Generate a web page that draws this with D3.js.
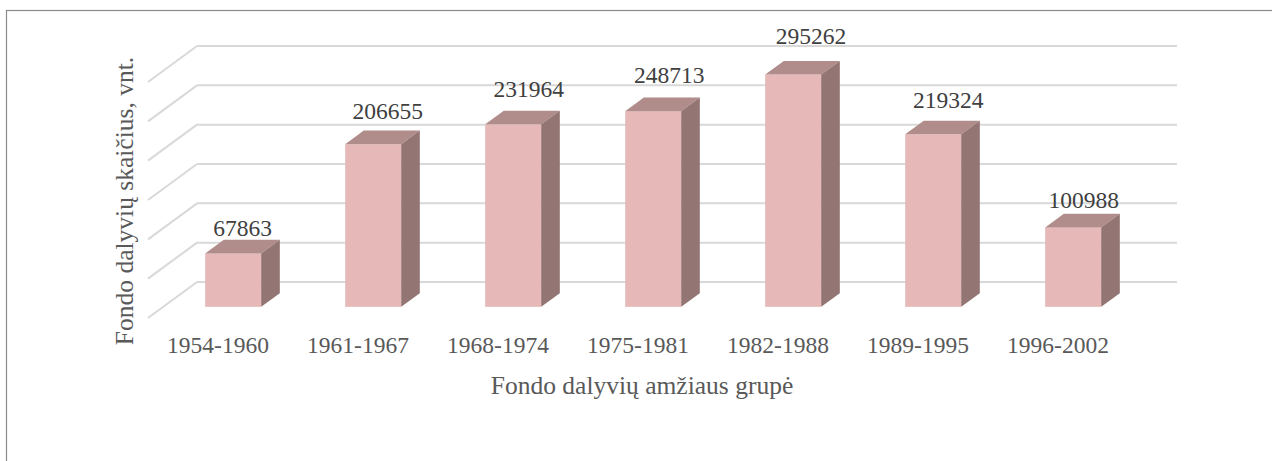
<!DOCTYPE html>
<html>
<head>
<meta charset="utf-8">
<script src="https://cdn.jsdelivr.net/npm/d3@7"></script>
<style>
  body { margin: 0; background: #fff; }
</style>
</head>
<body>
<div id="chart"></div>
<script>
// chart data
var categories = ["1954-1960", "1961-1967", "1968-1974", "1975-1981", "1982-1988", "1989-1995", "1996-2002"];
var values = [67863, 206655, 231964, 248713, 295262, 219324, 100988];
var gridTicks = [0, 50000, 100000, 150000, 200000, 250000, 300000];
var xTitle = "Fondo dalyvių amžiaus grupė";
var yTitle = "Fondo dalyvių skaičius, vnt.";

var width = 1272, height = 461;
var font = "Liberation Serif";

// 3d floor depth: back wall -> front edge
var depthX = -49, depthY = 36;
var barBack = 0.31, barFront = 0.69;   // bar position inside the floor depth

var svg = d3.select("#chart").append("svg")
    .attr("width", width)
    .attr("height", height);

// chart area border (cut at right/bottom like the original)
svg.append("rect")
    .attr("x", 6.5).attr("y", 10.5)
    .attr("width", 1300).attr("height", 500)
    .attr("fill", "none")
    .attr("stroke", "#8c8c8c")
    .attr("stroke-width", 1.2);

var x = d3.scaleBand()
    .domain(categories)
    .range([197, 1177])
    .paddingInner(0.6)
    .paddingOuter(0.3);

var xBand = d3.scaleBand()
    .domain(categories)
    .range([197, 1177]);

var y = d3.scaleLinear()
    .domain([0, 300000])
    .range([282, 46]);

// labels sit a bit higher / further back than the bars (perspective)
var yLabel = d3.scaleLinear().domain([0, 300000]).range([293.3, 40]);
var dxLabel = d3.scaleLinear().domain([67863, 295262]).range([0, 8.5]);

// gridlines on back wall + side wall diagonals
var grid = svg.append("g");
grid.selectAll("line.h")
    .data(gridTicks)
    .enter().append("line")
    .attr("class", "h")
    .attr("x1", 197).attr("x2", 1177)
    .attr("y1", function(d) { return y(d); })
    .attr("y2", function(d) { return y(d); })
    .attr("stroke", "#d9d9d9").attr("stroke-width", 2);

grid.selectAll("line.d")
    .data(gridTicks)
    .enter().append("line")
    .attr("class", "d")
    .attr("x1", 197).attr("x2", 197 + depthX)
    .attr("y1", function(d) { return y(d); })
    .attr("y2", function(d) { return y(d) + depthY; })
    .attr("stroke", "#d9d9d9").attr("stroke-width", 2);

// bars
var bars = svg.append("g").selectAll("g")
    .data(values)
    .enter().append("g");

function pt(px, py) { return px + "," + py; }

bars.each(function(d, i) {
    var g = d3.select(this);
    var x0 = x(categories[i]), w = x.bandwidth();
    var fx = depthX * barFront, fy = depthY * barFront;
    var bx = depthX * barBack, by = depthY * barBack;
    var top = y(d), bot = y(0);

    // front face
    g.append("rect")
        .attr("x", x0 + fx).attr("y", top + fy)
        .attr("width", w).attr("height", bot - top)
        .attr("fill", "#e6b8b7");
    // top face
    g.append("polygon")
        .attr("points", [pt(x0 + fx, top + fy), pt(x0 + fx + w, top + fy),
                         pt(x0 + bx + w, top + by), pt(x0 + bx, top + by)].join(" "))
        .attr("fill", "#b08c8a");
    // side face
    g.append("polygon")
        .attr("points", [pt(x0 + fx + w, top + fy), pt(x0 + bx + w, top + by),
                         pt(x0 + bx + w, bot + by), pt(x0 + fx + w, bot + fy)].join(" "))
        .attr("fill", "#937573");
});

// value labels
svg.append("g").selectAll("text")
    .data(values)
    .enter().append("text")
    .attr("x", function(d, i) {
        return x(categories[i]) + x.bandwidth() / 2 + depthX * (barBack + barFront) / 2 + dxLabel(d);
    })
    .attr("y", function(d) { return yLabel(d); })
    .attr("text-anchor", "middle")
    .style("font-family", font)
    .style("font-size", "23.5px")
    .style("fill", "#404040")
    .text(function(d) { return d; });

// category labels along the front edge of the floor
svg.append("g").selectAll("text")
    .data(categories)
    .enter().append("text")
    .attr("x", function(d) { return xBand(d) + xBand.bandwidth() / 2 + depthX; })
    .attr("y", 353)
    .attr("text-anchor", "middle")
    .style("font-family", font)
    .style("font-size", "23.5px")
    .style("fill", "#595959")
    .text(function(d) { return d; });

// axis titles
svg.append("text")
    .attr("x", 642).attr("y", 394)
    .attr("text-anchor", "middle")
    .style("font-family", font)
    .style("font-size", "25.5px")
    .style("fill", "#595959")
    .text(xTitle);

svg.append("text")
    .attr("transform", "translate(133,201) rotate(-90)")
    .attr("text-anchor", "middle")
    .style("font-family", font)
    .style("font-size", "25.5px")
    .style("fill", "#595959")
    .text(yTitle);
</script>
</body>
</html>
